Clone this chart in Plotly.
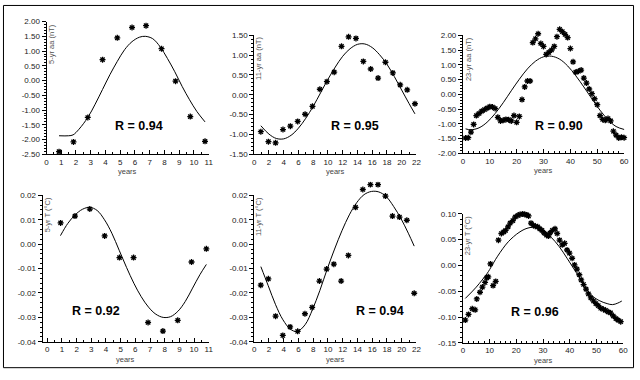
import plotly.graph_objects as go

W, H = 640, 380

# ---------------- data ----------------
# Panel 1: 5-yr aa (nT)
aa5_years = [0.85, 1.83, 2.8, 3.8, 4.8, 5.8, 6.75, 7.8, 8.75, 9.75, 10.75]
aa5_obs = [-2.41, -2.08, -1.25, 0.71, 1.45, 1.80, 1.86, 1.08, -0.02, -1.22, -2.06]
aa5_fit_years = [0.85, 1.5, 1.8, 2.2, 2.8, 3.3, 3.8, 4.3, 4.8, 5.3, 5.8, 6.3, 6.7,
                 7.2, 7.7, 8.2, 8.7, 9.2, 9.7, 10.2, 10.75]
aa5_fit = [-1.87, -1.87, -1.84, -1.65, -1.25, -0.80, -0.30, 0.20, 0.65, 1.05, 1.32,
           1.47, 1.50, 1.42, 1.15, 0.75, 0.30, -0.20, -0.65, -1.05, -1.40]

# Panel 2: 11-yr aa (nT)
aa11_years = [0.9, 1.93, 2.9, 3.9, 4.9, 5.9, 6.9, 7.9, 8.9, 9.86, 10.85, 11.84, 12.8,
              13.8, 14.8, 15.8, 16.8, 17.8, 18.8, 19.8, 20.75, 21.8]
aa11_obs = [-0.93, -1.18, -1.21, -0.875, -0.79, -0.67, -0.49, -0.29, 0.14, 0.33, 0.57,
            1.22, 1.46, 1.42, 0.84, 0.65, 0.42, 0.82, 0.55, 0.25, 0.125, -0.225]
aa11_fit_years = [0.9, 2, 3, 4, 5, 6, 7, 8, 9, 10, 11, 12, 13, 14, 15, 16, 17, 18,
                  19, 20, 21, 21.8]
aa11_fit = [-0.78, -0.99, -1.10, -1.11, -1.02, -0.84, -0.59, -0.29, 0.05, 0.39, 0.70,
            0.97, 1.16, 1.27, 1.28, 1.19, 1.01, 0.77, 0.46, 0.12, -0.22, -0.48]

# Panel 3: 23-yr aa (nT)
aa23_years = list(range(1, 61))
aa23_obs = [-1.48, -1.47, -1.28, -1.02, -0.72, -0.65, -0.57, -0.52, -0.47, -0.42,
            -0.43, -0.48, -0.78, -0.90, -0.88, -0.85, -0.86, -0.90, -0.72, -0.95,
            -0.75, -0.18, 0.25, 0.45, 0.45, 1.75, 1.88, 2.05, 1.72, 1.62,
            1.35, 1.42, 1.50, 1.62, 1.95, 2.20, 2.12, 2.03, 1.92, 1.55,
            1.10, 0.75, 0.78, 0.82, 0.55, 0.38, 0.18, 0.02, -0.15, -0.35,
            -0.72, -0.85, -0.88, -0.82, -0.90, -1.25, -1.38, -1.48, -1.45, -1.47]
aa23_fit_years = [1, 3, 6, 9, 12, 15, 18, 21, 24, 27, 30, 33, 36, 39, 42, 45, 48,
                  51, 54, 57, 60]
aa23_fit = [-1.17, -1.20, -1.135, -0.945, -0.65, -0.285, 0.12, 0.51, 0.86, 1.12, 1.27,
            1.29, 1.19, 0.96, 0.63, 0.25, -0.15, -0.535, -0.86, -1.09, -1.19]

# Panel 4: 5-yr T (degC)
t5_years = [0.91, 1.89, 2.9, 3.91, 4.92, 5.88, 6.87, 7.88, 8.89, 9.83, 10.84]
t5_obs = [0.0087, 0.0115, 0.0144, 0.0034, -0.0055, -0.0055, -0.0321, -0.0356,
          -0.0312, -0.0073, -0.0019]
t5_fit_years = [0.9, 1.4, 1.9, 2.4, 2.9, 3.4, 3.9, 4.4, 4.9, 5.4, 5.9, 6.4, 6.9, 7.4,
                7.9, 8.4, 8.9, 9.4, 9.9, 10.4, 10.84]
t5_fit = [0.0035, 0.0085, 0.0120, 0.0143, 0.0151, 0.0138, 0.0100, 0.0045, -0.0025,
          -0.0095, -0.0160, -0.0215, -0.0258, -0.0287, -0.0300, -0.0297, -0.0275,
          -0.0235, -0.0180, -0.0125, -0.0083]

# Panel 5: 11-yr T (degC)
t11_years = [0.89, 1.92, 2.9, 3.88, 4.87, 5.89, 6.88, 7.86, 8.84, 9.82, 10.8, 11.79,
             12.77, 13.75, 14.73, 15.76, 16.79, 17.8, 18.75, 19.7, 20.7, 21.7]
t11_obs = [-0.0168, -0.0142, -0.0295, -0.0374, -0.0339, -0.0357, -0.0285, -0.0259,
           -0.0151, -0.0102, -0.0082, -0.0151, -0.0046, 0.0151, 0.0224, 0.0244,
           0.0244, 0.0197, 0.0115, 0.0111, 0.0098, -0.0201]
t11_fit_years = [0.9, 1.9, 2.9, 3.9, 4.9, 5.8, 6.9, 7.9, 8.9, 9.9, 10.9, 11.9, 12.9,
                 13.9, 14.9, 15.9, 16.9, 17.9, 18.9, 19.9, 20.9, 21.7]
t11_fit = [-0.0092, -0.0170, -0.0248, -0.0310, -0.0348, -0.0358, -0.0330, -0.0268,
           -0.0190, -0.0102, -0.0020, 0.0055, 0.0120, 0.0170, 0.0203, 0.0216, 0.0214,
           0.0195, 0.0155, 0.0105, 0.0045, -0.0008]

# Panel 6: 23-yr T (degC)
t23_years = [0.9, 2.1, 3.5, 4.6, 5.2, 6.4, 7.3, 8.3, 8.9, 9.5, 10.3, 11.3, 12.3, 13.3,
             14.4, 15.3, 16.0, 16.9, 17.7, 18.7, 19.6, 20.6, 21.4, 22.4, 23.2, 24.0,
             24.6, 25.5, 26.4, 27.1, 28.0, 28.8, 29.6, 30.4, 31.3, 32.0, 32.6, 33.5,
             34.5, 35.3, 36.2, 37.2, 38.1, 39.0, 39.9, 40.9, 41.8, 42.7, 43.6, 44.3,
             45.2, 46.1, 47.0, 47.9, 48.9, 49.8, 50.7, 51.6, 52.6, 53.4, 54.4, 55.3,
             56.3, 57.3, 58.1, 59.1]
t23_obs = [-0.106, -0.095, -0.084, -0.086, -0.065, -0.052, -0.042, -0.033, -0.024,
           -0.022, 0.003, -0.039, -0.031, 0.049, 0.062, 0.065, 0.068, 0.075, 0.082,
           0.087, 0.094, 0.097, 0.099, 0.100, 0.099, 0.098, 0.096, 0.082, 0.078,
           0.076, 0.075, 0.071, 0.068, 0.063, 0.059, 0.057, 0.063, 0.068, 0.071,
           0.062, 0.049, 0.040, 0.043, 0.030, 0.024, 0.014, 0.001, -0.007, -0.018,
           -0.028, -0.037, -0.046, -0.055, -0.063, -0.069, -0.074, -0.078, -0.083,
           -0.085, -0.087, -0.090, -0.092, -0.098, -0.103, -0.106, -0.109]
t23_fit_years = [0.9, 5, 9, 10, 13, 17, 21, 24, 27, 30, 33, 36, 39, 42, 45, 48, 51,
                 54, 56, 58, 59.5]
t23_fit = [-0.064, -0.042, -0.016, -0.008, 0.018, 0.046, 0.064, 0.072, 0.074, 0.068,
           0.055, 0.037, 0.014, -0.010, -0.035, -0.057, -0.068, -0.074, -0.076,
           -0.073, -0.069]

# tick labels
aa5_xticks = list(range(0, 12))
aa5_yticks = [2.0, 1.5, 1.0, 0.5, 0.0, -0.5, -1.0, -1.5, -2.0, -2.5]
aa5_yticktext = ["2.00", "1.50", "1.00", "0.50", "0.00", "-0.50", "-1.00", "-1.50", "-2.00", "-2.50"]
aa11_xticks = list(range(0, 23, 2))
aa11_yticks = [1.5, 1.0, 0.5, 0.0, -0.5, -1.0, -1.5]
aa11_yticktext = ["1.50", "1.00", "0.50", "0.00", "-0.50", "-1.00", "-1.50"]
aa23_xticks = list(range(0, 61, 10))
aa23_yticks = [2.0, 1.5, 1.0, 0.5, 0.0, -0.5, -1.0, -1.5, -2.0]
aa23_yticktext = ["2.00", "1.50", "1.00", "0.50", "0.00", "-0.50", "-1.00", "-1.50", "-2.00"]
t_yticks = [0.02, 0.01, 0.0, -0.01, -0.02, -0.03, -0.04]
t_yticktext = ["0.02", "0.01", "0.00", "-0.01", "-0.02", "-0.03", "-0.04"]
t23_yticks = [0.10, 0.05, 0.0, -0.05, -0.10, -0.15]
t23_yticktext = ["0.10", "0.05", "0.00", "-0.05", "-0.10", "-0.15"]

ylabels = ["5-yr aa (nT)", "11-yr aa (nT)", "23-yr aa (nT)",
           "5-yr T (°C)", "11-yr T (°C)", "23-yr T (°C)"]
r_labels = ["R = 0.94", "R = 0.95", "R = 0.90", "R = 0.92", "R = 0.94", "R = 0.96"]

# ---------------- layout geometry (pixels) ----------------
panels = [
    dict(obs=(aa5_years, aa5_obs), fit=(aa5_fit_years, aa5_fit),
         px=(45, 209), py=(18, 154), xr=[0, 11], yr=[-2.5, 2.0],
         xt=aa5_xticks, yt=aa5_yticks, ytt=aa5_yticktext, xminor=0.5, yminor=0.1,
         rpos=(139, 125)),
    dict(obs=(aa11_years, aa11_obs), fit=(aa11_fit_years, aa11_fit),
         px=(255, 419), py=(32, 154), xr=[0, 22], yr=[-1.5, 1.5],
         xt=aa11_xticks, yt=aa11_yticks, ytt=aa11_yticktext, xminor=1, yminor=0.1,
         rpos=(357, 125)),
    dict(obs=(aa23_years, aa23_obs), fit=(aa23_fit_years, aa23_fit),
         px=(466, 629), py=(32, 153), xr=[0, 60], yr=[-2.0, 2.0],
         xt=aa23_xticks, yt=aa23_yticks, ytt=aa23_yticktext, xminor=2, yminor=0.1,
         rpos=(563, 125)),
    dict(obs=(t5_years, t5_obs), fit=(t5_fit_years, t5_fit),
         px=(41, 209), py=(196, 346), xr=[-0.32, 11], yr=[-0.04, 0.02],
         xt=aa5_xticks, yt=t_yticks, ytt=t_yticktext, xminor=0.5, yminor=0.002,
         rpos=(95, 314)),
    dict(obs=(t11_years, t11_obs), fit=(t11_fit_years, t11_fit),
         px=(255, 419), py=(196, 346), xr=[0, 22], yr=[-0.04, 0.02],
         xt=aa11_xticks, yt=t_yticks, ytt=t_yticktext, xminor=1, yminor=0.002,
         rpos=(382, 314)),
    dict(obs=(t23_years, t23_obs), fit=(t23_fit_years, t23_fit),
         px=(466, 628), py=(215, 347), xr=[0, 60], yr=[-0.15, 0.10],
         xt=aa23_xticks, yt=t23_yticks, ytt=t23_yticktext, xminor=2, yminor=0.01,
         rpos=(539, 315)),
]

FONT = "Liberation Sans, Arial, sans-serif"
PADX, PADY = 8, 14  # extra room (px) for the hidden data axes so marks are not clipped


def px2x(p):
    return p / W


def py2y(p):
    return 1 - p / H


fig = go.Figure()
layout = dict(
    width=W, height=H, margin=dict(l=0, r=0, t=0, b=0),
    paper_bgcolor="white", plot_bgcolor="rgba(0,0,0,0)", showlegend=False,
    font=dict(family=FONT, size=8, color="#222"),
    annotations=[], shapes=[],
)

n = len(panels)
for i, p in enumerate(panels, start=1):
    # visible axes: i ; hidden data axes: i + n
    xkey = "xaxis" if i == 1 else f"xaxis{i}"
    ykey = "yaxis" if i == 1 else f"yaxis{i}"
    xa = "x" if i == 1 else f"x{i}"
    ya = "y" if i == 1 else f"y{i}"
    j = i + n
    hxa, hya = f"x{j}", f"y{j}"

    layout[xkey] = dict(
        domain=[px2x(p["px"][0]), px2x(p["px"][1])], anchor=ya, range=p["xr"],
        showline=True, linecolor="black", linewidth=1, showgrid=False, zeroline=False,
        ticks="inside", ticklen=4, tickwidth=1, tickcolor="black",
        tickmode="array", tickvals=p["xt"], ticktext=[str(v) for v in p["xt"]],
        tickfont=dict(family=FONT, size=8, color="#222"),
        minor=dict(ticks="inside", ticklen=2, tickcolor="black", dtick=p["xminor"],
                   tick0=0, showgrid=False),
        fixedrange=True)
    layout[ykey] = dict(
        domain=[py2y(p["py"][1]), py2y(p["py"][0])], anchor=xa, range=p["yr"],
        showline=True, linecolor="black", linewidth=1, showgrid=False, zeroline=False,
        ticks="outside", ticklen=4, tickwidth=1, tickcolor="black",
        tickmode="array", tickvals=p["yt"], ticktext=p["ytt"],
        tickfont=dict(family=FONT, size=8, color="#222"),
        minor=dict(ticks="outside", ticklen=2, tickcolor="black", dtick=p["yminor"],
                   tick0=0, showgrid=False),
        fixedrange=True)

    # hidden axes with the same scale but a larger box
    xupp = (p["xr"][1] - p["xr"][0]) / (p["px"][1] - p["px"][0])
    yupp = (p["yr"][1] - p["yr"][0]) / (p["py"][1] - p["py"][0])
    layout[f"xaxis{j}"] = dict(
        domain=[px2x(p["px"][0] - PADX), px2x(p["px"][1] + PADX)], anchor=hya,
        range=[p["xr"][0] - PADX * xupp, p["xr"][1] + PADX * xupp],
        visible=False, fixedrange=True)
    layout[f"yaxis{j}"] = dict(
        domain=[py2y(p["py"][1] + PADY), py2y(p["py"][0] - PADY)], anchor=hxa,
        range=[p["yr"][0] - PADY * yupp, p["yr"][1] + PADY * yupp],
        visible=False, fixedrange=True)

    # placeholder (no marks) so the visible axis pair is drawn
    fig.add_trace(go.Scatter(x=[None], y=[None], mode="markers", xaxis=xa, yaxis=ya,
                             hoverinfo="skip"))
    fig.add_trace(go.Scatter(
        x=p["fit"][0], y=p["fit"][1], mode="lines", xaxis=hxa, yaxis=hya,
        line=dict(color="black", width=1, shape="spline", smoothing=1.0),
        hoverinfo="skip"))
    fig.add_trace(go.Scatter(
        x=p["obs"][0], y=p["obs"][1], mode="markers", xaxis=hxa, yaxis=hya,
        marker=dict(symbol="asterisk", size=5, color="black",
                    line=dict(color="black", width=1.3))))

    # y-axis title inside the plot, rotated
    layout["annotations"].append(dict(
        text=ylabels[i - 1], textangle=-90, showarrow=False,
        xref="paper", yref="paper", x=px2x(p["px"][0] + 5), y=py2y(p["py"][0]),
        xanchor="center", yanchor="top",
        font=dict(family=FONT, size=7.5, color="#555")))
    # x-axis title
    layout["annotations"].append(dict(
        text="years", showarrow=False, xref="paper", yref="paper",
        x=px2x((p["px"][0] + p["px"][1]) / 2), y=py2y(p["py"][1] + 18),
        xanchor="center", yanchor="middle",
        font=dict(family=FONT, size=7.5, color="#444")))
    # correlation label
    layout["annotations"].append(dict(
        text="<b>" + r_labels[i - 1] + "</b>", showarrow=False,
        xref="paper", yref="paper", x=px2x(p["rpos"][0]), y=py2y(p["rpos"][1]),
        xanchor="center", yanchor="middle",
        font=dict(family=FONT, size=12.5, color="black")))

# outer frame
layout["shapes"].append(dict(
    type="rect", xref="paper", yref="paper",
    x0=px2x(1.5), x1=px2x(638.5), y0=py2y(372.5), y1=py2y(1.5),
    line=dict(color="black", width=1), fillcolor="rgba(0,0,0,0)"))

fig.update_layout(**layout)
fig.write_html("out.html", config={"displayModeBar": False},
               post_script="document.body.style.margin='0';document.body.style.overflow='hidden';")
